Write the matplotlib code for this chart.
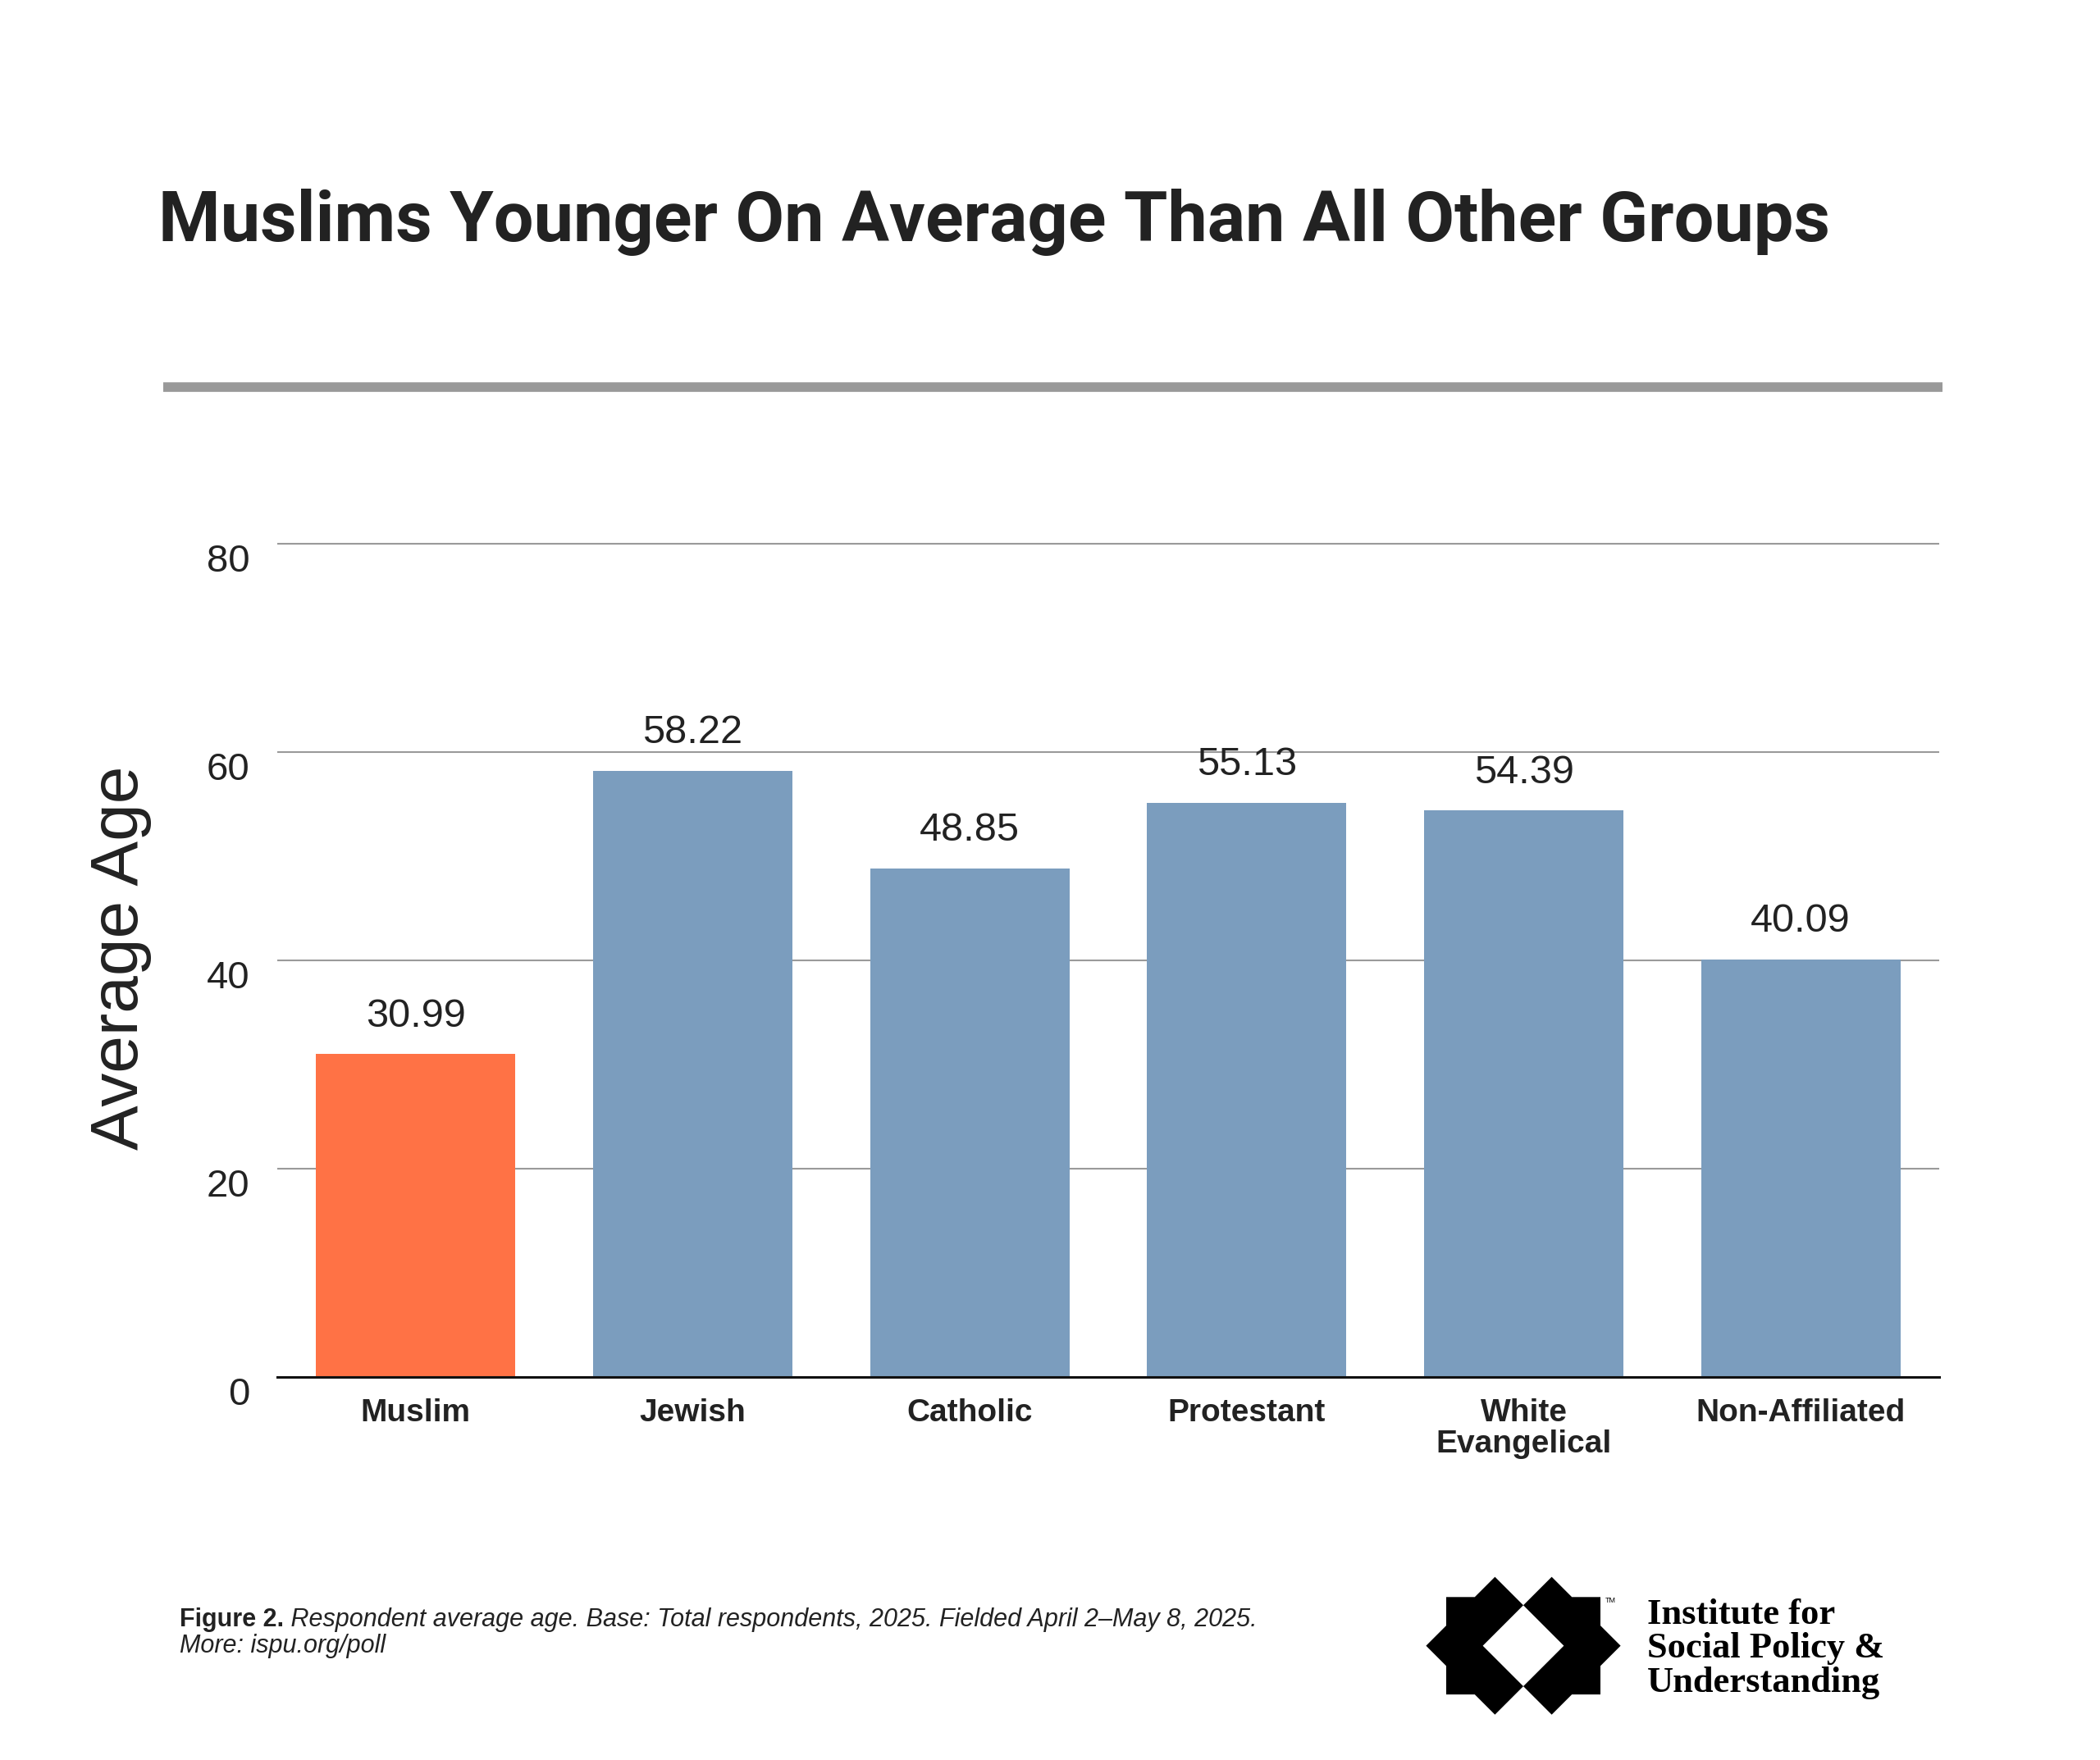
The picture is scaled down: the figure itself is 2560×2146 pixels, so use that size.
import numpy as np
import matplotlib
matplotlib.use("Agg")
import matplotlib.pyplot as plt
from matplotlib.lines import Line2D
from matplotlib.patches import Polygon
from matplotlib.transforms import ScaledTranslation

groups = ["Muslim", "Jewish", "Catholic", "Protestant", "White\nEvangelical", "Non-Affiliated"]
avg_age = [30.99, 58.22, 48.85, 55.13, 54.39, 40.09]
bar_colors = ["#FF7245", "#7B9DBE", "#7B9DBE", "#7B9DBE", "#7B9DBE", "#7B9DBE"]
y_ticks = [0, 20, 40, 60, 80]

title = "Muslims Younger On Average Than All Other Groups"
y_label = "Average Age"
note_bold = "Figure 2."
note_rest = " Respondent average age. Base: Total respondents, 2025. Fielded April 2\u2013May 8, 2025."
note_line2 = "More: ispu.org/poll"
org_lines = ["Institute for", "Social Policy &", "Understanding"]

plt.rcParams["font.family"] = ["Liberation Sans", "DejaVu Sans"]
TXT = "#222222"

W, H = 2560, 2146
fig = plt.figure(figsize=(W / 100, H / 100), dpi=100)
renderer = fig.canvas.get_renderer()


def fx(px):
    return px / W


def fy(py):
    return 1 - py / H


# main chart
ax = fig.add_axes([fx(338), fy(1679), (2364 - 338) / W, (1016 * 82 / 80) / H])
xs = np.arange(len(groups))
ax.bar(xs, avg_age, width=0.72, color=bar_colors, zorder=3)
ax.set_xlim(-0.5, len(groups) - 0.5)
ax.set_ylim(0, 82)
ax.set_yticks(y_ticks)
ax.yaxis.grid(True, color="#9a9a9a", linewidth=1.5)
ax.set_axisbelow(True)
for side in ["left", "right", "top"]:
    ax.spines[side].set_visible(False)
ax.spines["bottom"].set_color("#111111")
ax.spines["bottom"].set_linewidth(2.2)
ax.spines["bottom"].set_zorder(4)
ax.tick_params(axis="y", length=0, pad=24, labelsize=34, labelcolor=TXT)
ax.tick_params(axis="x", length=0, pad=19, labelsize=28, labelcolor=TXT)
ax.set_xticks(xs, groups, fontweight="bold", linespacing=1.05)
shift = ScaledTranslation(0, -0.17, fig.dpi_scale_trans)
for lab in ax.get_yticklabels():
    lab.set_transform(lab.get_transform() + shift)

for i, v in enumerate(avg_age):
    ax.annotate(f"{v:.2f}", (xs[i], v), xytext=(0, 17), textcoords="offset points",
                ha="center", va="bottom", fontsize=35, color=TXT)

fig.text(fx(147), fy(1168), y_label, rotation=90, ha="center", va="center",
         fontsize=59, color=TXT)

# title, sized to the reference width
t = fig.text(fx(193), fy(294), title, ha="left", va="baseline", fontsize=60,
             fontweight="bold", family=["Roboto", "DejaVu Sans"], color=TXT)
bw = t.get_window_extent(renderer).width
t.set_fontsize(60 * 2038 / bw)

fig.add_artist(Line2D([fx(199), fx(2368)], [fy(472), fy(472)], color="#999999",
                      linewidth=8.4, solid_capstyle="butt"))

# footer note
fb = fig.text(fx(219), fy(1983), note_bold, ha="left", va="baseline", fontsize=22,
              fontweight="bold", color=TXT)
fbw = fb.get_window_extent(renderer).width
fig.text(fx(219 + fbw), fy(1983), note_rest, ha="left", va="baseline", fontsize=22,
         style="italic", color=TXT)
fig.text(fx(219), fy(2015), note_line2, ha="left", va="baseline", fontsize=22,
         style="italic", color=TXT)

# logo mark
lx0, lx1, ly0, ly1 = 1730, 1985, 1915, 2100
cx, cy = 1857, 2006.7
lax = fig.add_axes([fx(lx0), fy(ly1), (lx1 - lx0) / W, (ly1 - ly0) / H])
lax.set_xlim(lx0 - cx, lx1 - cx)
lax.set_ylim(cy - ly1, cy - ly0)
lax.axis("off")
s = 84.0
a = s / np.sqrt(2)
d = 34.6
L = -d
left_piece = [(L, s), (L - (s - a), a), (L - a, a), (L - a, s - a), (L - s, 0),
              (L - a, -(s - a)), (L - a, -a), (L - (s - a), -a), (L, -s),
              (0, -(s - d)), (d - s, 0), (0, s - d)]
right_piece = [(-px, py) for px, py in left_piece]
for pts in (left_piece, right_piece):
    lax.add_patch(Polygon(pts, closed=True, facecolor="black", edgecolor="none"))
fig.text(fx(1957), fy(1951), "TM", ha="left", va="center", fontsize=6.5, color="black")

for k, line in enumerate(org_lines):
    fig.text(fx(2008), fy([1980, 2021, 2063][k]), line, ha="left", va="baseline",
             fontsize=32, fontweight="bold", family=["Liberation Serif", "DejaVu Serif"],
             color="black")

fig.savefig("out.png", dpi=100, facecolor="white")
